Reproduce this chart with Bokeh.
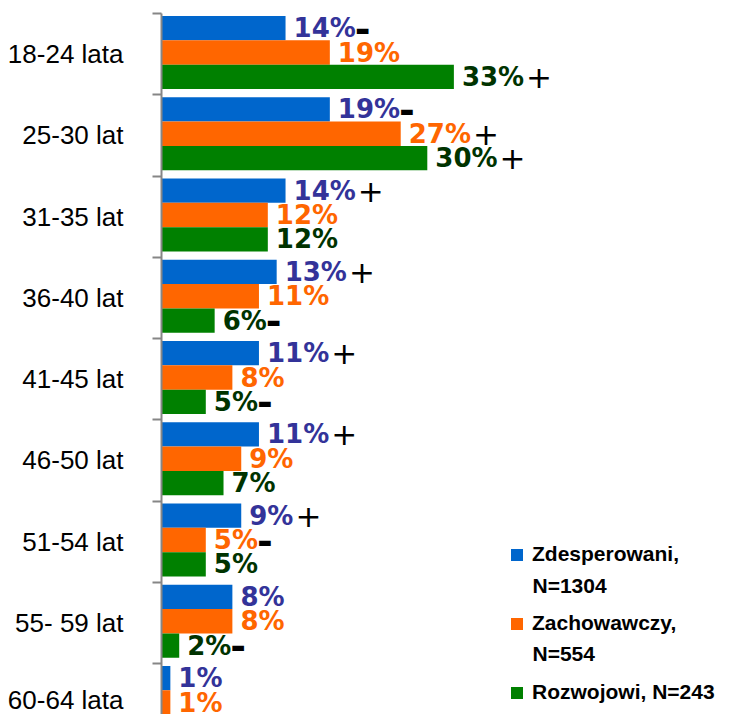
from bokeh.plotting import figure
from bokeh.models import (ColumnDataSource, Range1d, FixedTicker, Legend, LegendItem, Label)
from bokeh.core.properties import value
from bokeh.embed import file_html
from bokeh.resources import INLINE

categories = ["18-24 lata", "25-30 lat", "31-35 lat", "36-40 lat", "41-45 lat",
              "46-50 lat", "51-54 lat", "55- 59 lat", "60-64 lata"]
zdesperowani = [14, 19, 14, 13, 11, 11, 9, 8, 1]
zachowawczy = [19, 27, 12, 11, 8, 9, 5, 8, 1]
rozwojowi = [33, 30, 12, 6, 5, 7, 5, 2, None]   # last one is cut off in the picture
sig_zdesp = ["-", "-", "+", "+", "+", "+", "+", "", ""]
sig_zach = ["", "+", "", "", "", "", "-", "", ""]
sig_rozw = ["+", "+", "", "-", "-", "", "", "-", ""]

legend_first = ["Zdesperowani,", "Zachowawczy,", "Rozwojowi, N=243"]
legend_second = ["N=1304", "N=554", None]

series = [
    (zdesperowani, sig_zdesp, "#0066CC", "#333399", -0.32),
    (zachowawczy, sig_zach, "#FF6600", "#FF6600", -0.02),
    (rozwojowi, sig_rozw, "#008000", "#003300", 0.28),
]

LABEL_FS = 26
DIGIT_W = 0.696 * LABEL_FS
PCT_W = 1.002 * LABEL_FS

PX_PER_UNIT_Y = 81.25
PX_PER_UNIT_X = 8.86
FRAME_LEFT = 161
FRAME_TOP = 13
W, H = 736, 714

y_start = -0.5 + (H - FRAME_TOP) / PX_PER_UNIT_Y
x_end = (W - FRAME_LEFT) / PX_PER_UNIT_X

p = figure(width=W, height=H, output_backend="svg", toolbar_location=None,
           x_range=Range1d(0, x_end), y_range=Range1d(y_start, -0.5),
           min_border_left=FRAME_LEFT, min_border_top=FRAME_TOP, min_border_right=0,
           min_border_bottom=0, x_axis_location=None)
p.outline_line_color = None
p.xgrid.visible = False
p.ygrid.visible = False
p.background_fill_color = "white"
p.border_fill_color = "white"

legend_items = []
for k, (vals, sigs, bar_col, lab_col, off) in enumerate(series):
    idx = [i for i, v in enumerate(vals) if v is not None]
    ys = [i + off for i in idx]
    xs = [vals[i] for i in idx]
    labels = [f"{vals[i]}%" for i in idx]
    s = [sigs[i] for i in idx]
    sig_off = [8 + len(str(vals[i])) * DIGIT_W + PCT_W + (2 if sigs[i] == "+" else -1)
               for i in idx]
    src = ColumnDataSource(dict(y=ys, x=xs, label=labels, sig=s, sig_off=sig_off))
    r = p.hbar(y="y", right="x", left=0, height=0.3, source=src,
               fill_color=bar_col, line_color=None)
    legend_items.append(LegendItem(label=legend_first[k], renderers=[r]))
    p.text(x="x", y="y", text="label", source=src, x_offset=8,
           text_align="left", text_baseline="middle",
           text_font=value("DejaVu Sans"), text_font_style="bold",
           text_font_size=f"{LABEL_FS}px", text_color=lab_col)
    plus_src = ColumnDataSource(dict(
        y=[ys[j] for j in range(len(idx)) if s[j] == "+"],
        x=[xs[j] for j in range(len(idx)) if s[j] == "+"],
        sig=[s[j] for j in range(len(idx)) if s[j] == "+"],
        off=[sig_off[j] for j in range(len(idx)) if s[j] == "+"]))
    minus_src = ColumnDataSource(dict(
        y=[ys[j] for j in range(len(idx)) if s[j] == "-"],
        x=[xs[j] for j in range(len(idx)) if s[j] == "-"],
        sig=[s[j] for j in range(len(idx)) if s[j] == "-"],
        off=[sig_off[j] for j in range(len(idx)) if s[j] == "-"]))
    p.text(x="x", y="y", text="sig", source=plus_src, x_offset="off",
           text_align="left", text_baseline="middle",
           text_font=value("DejaVu Sans"), text_font_size="31px", text_color="black")
    p.text(x="x", y="y", text="sig", source=minus_src, x_offset="off",
           text_align="left", text_baseline="middle",
           text_font=value("DejaVu Sans"), text_font_style="bold",
           text_font_size="38px", text_color="black")

ax = p.yaxis[0]
ax.ticker = FixedTicker(ticks=list(range(len(categories))),
                        minor_ticks=[i - 0.5 for i in range(len(categories) + 1)])
ax.major_label_overrides = {i: c for i, c in enumerate(categories)}
ax.major_tick_line_color = None
ax.minor_tick_line_color = "#868686"
ax.minor_tick_line_width = 2
ax.minor_tick_out = 9
ax.minor_tick_in = 0
ax.axis_line_color = "#868686"
ax.axis_line_width = 2
ax.major_label_standoff = 29
ax.major_label_text_font = "Liberation Sans"
ax.major_label_text_font_size = "26px"
ax.major_label_text_color = "black"

legend = Legend(items=legend_items, location=(348, 10),
                glyph_width=15, glyph_height=15, label_standoff=8,
                label_height=15,
                label_text_font="Liberation Sans", label_text_font_style="bold",
                label_text_font_size="21px", label_text_color="black",
                spacing=45, padding=0, margin=0, border_line_color=None,
                background_fill_alpha=0)
p.add_layout(legend)

# second lines of the two-line legend entries
legend_x = (532 - FRAME_LEFT) / PX_PER_UNIT_X
second_y = [-0.5 + (584.5 - FRAME_TOP) / PX_PER_UNIT_Y,
            -0.5 + (652.5 - FRAME_TOP) / PX_PER_UNIT_Y]
for txt, yy in zip(legend_second[:2], second_y):
    p.add_layout(Label(x=legend_x, y=yy, text=txt, text_align="left",
                       text_baseline="middle", text_font="Liberation Sans",
                       text_font_style="bold", text_font_size="21px",
                       text_color="black"))

open("out.html", "w").write(file_html(p, INLINE))
